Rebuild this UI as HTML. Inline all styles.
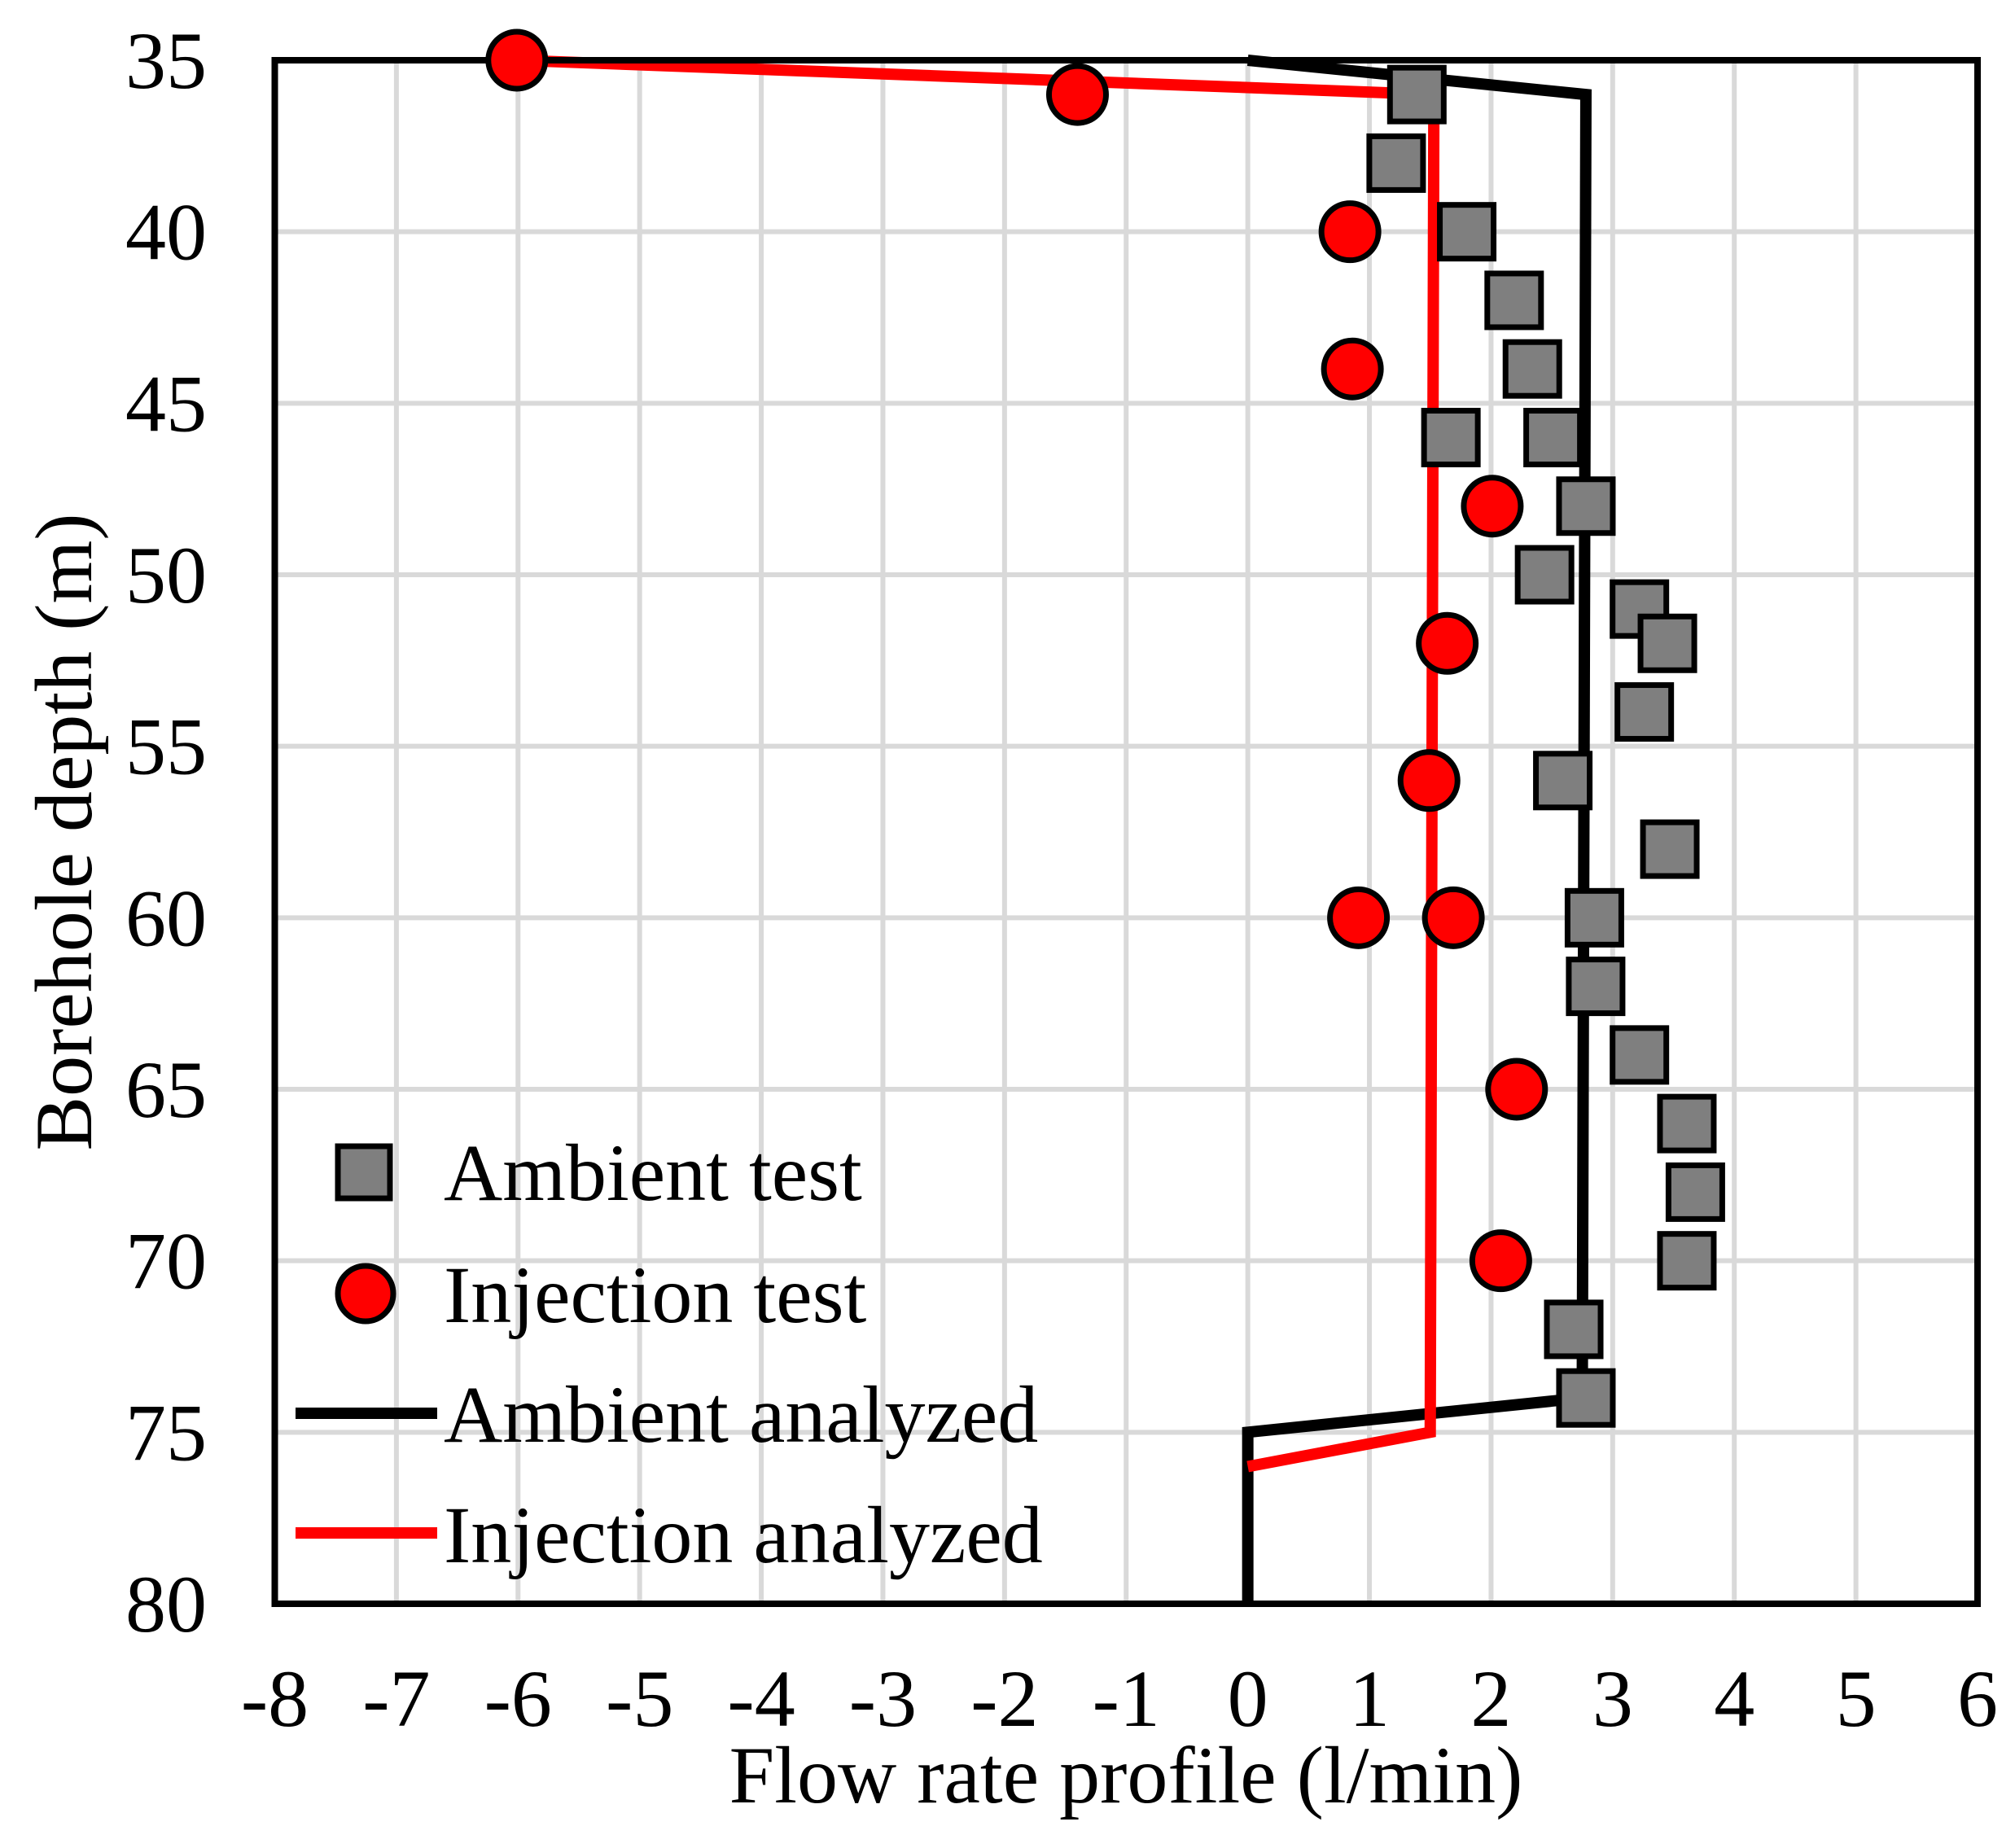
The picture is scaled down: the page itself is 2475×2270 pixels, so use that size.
<!DOCTYPE html>
<html><head><meta charset="utf-8"><style>
html,body{margin:0;padding:0;background:#fff;}
svg{display:block;font-family:"Liberation Serif",serif;}
</style></head><body>
<svg id="chart" width="2475" height="2270" viewBox="0 0 2475 2270" xmlns="http://www.w3.org/2000/svg">
<rect width="2475" height="2270" fill="#fff"/>
<g id="grid"></g>
<g id="series"></g>
<rect x="337.5" y="74" width="2091.5" height="1896" fill="none" stroke="#000" stroke-width="8"/>
<g id="markers"></g>
<g id="ticks" font-size="100"></g>
<text x="1383" y="2214" font-size="100" text-anchor="middle">Flow rate profile (l/min)</text>
<text transform="translate(112,1022) rotate(-90)" font-size="100" text-anchor="middle">Borehole depth (m)</text>
<g font-size="100">
<rect x="415" y="1408" width="64" height="64" fill="#7f7f7f" stroke="#000" stroke-width="7"/>
<text x="545" y="1474">Ambient test</text>
<circle cx="449" cy="1589" r="34" fill="#ff0000" stroke="#000" stroke-width="7"/>
<text x="545" y="1624">Injection test</text>
<line x1="363" y1="1736" x2="537" y2="1736" stroke="#000" stroke-width="14"/>
<text x="545" y="1771">Ambient analyzed</text>
<line x1="363" y1="1883" x2="537" y2="1883" stroke="#ff0000" stroke-width="14"/>
<text x="545" y="1919">Injection analyzed</text>
</g>
</svg>
<script>
const xTicks=[-8,-7,-6,-5,-4,-3,-2,-1,0,1,2,3,4,5,6];
const yTicks=[35,40,45,50,55,60,65,70,75,80];
const ambientX=[1.39,1.22,1.80,2.19,2.34,1.67,2.51,2.78,2.44,3.22,3.45,3.26,2.59,3.47,2.85,2.86,3.22,3.61,3.68,3.61,2.68,2.78];
const ambientY=[36,38,40,42,44,46,46,48,50,51,52,54,56,58,60,62,64,66,68,70,72,74];
const injX=[-6.01,-1.40,0.84,0.86,2.01,1.64,1.49,0.91,1.69,2.21,2.08];
const injY=[35,36,40,44,48,52,56,60,60,65,70];
const ambLineX=[0,2.78,2.75,0,0];
const ambLineY=[35,36,74,75,80];
const injLineX=[-6.01,1.53,1.50,0];
const injLineY=[35,36,75,76];
const L=337.5,R=2429,T=74,B=1970;
const sx=v=>L+(v+8)/14*(R-L);
const sy=v=>T+(v-35)/45*(B-T);
const NS='http://www.w3.org/2000/svg';
function mk(tag,parent,attrs){const e=document.createElementNS(NS,tag);for(const k in attrs)e.setAttribute(k,attrs[k]);parent.appendChild(e);return e;}
const grid=document.getElementById('grid'),ticks=document.getElementById('ticks');
xTicks.forEach(t=>{
 const g=mk('line',grid,{x1:sx(t),x2:sx(t),y1:T,y2:B,stroke:'#d9d9d9','stroke-width':6});
 
 
 const tx=mk('text',ticks,{x:sx(t),y:2120,'text-anchor':'middle'});tx.textContent=t;
 
 
});
yTicks.forEach(t=>{
 const g=mk('line',grid,{x1:L,x2:R,y1:sy(t),y2:sy(t),stroke:'#d9d9d9','stroke-width':6});
 
 
 const tx=mk('text',ticks,{x:254,y:sy(t)+34,'text-anchor':'end'});tx.textContent=t;
 
 
});
const series=document.getElementById('series');
const p1=mk('polyline',series,{points:ambLineX.map((x,i)=>sx(x)+','+sy(ambLineY[i])).join(' '),fill:'none',stroke:'#000','stroke-width':14,'stroke-linejoin':'miter'});


const p2=mk('polyline',series,{points:injLineX.map((x,i)=>sx(x)+','+sy(injLineY[i])).join(' '),fill:'none',stroke:'#ff0000','stroke-width':14,'stroke-linejoin':'miter'});


const mg=document.getElementById('markers');
ambientX.forEach((x,i)=>{
 const r=mk('rect',mg,{x:sx(x)-33,y:sy(ambientY[i])-33,width:66,height:66,fill:'#7f7f7f',stroke:'#000','stroke-width':7});
 
 
});
injX.forEach((x,i)=>{
 const c=mk('circle',mg,{cx:sx(x),cy:sy(injY[i]),r:35,fill:'#ff0000',stroke:'#000','stroke-width':7});
 
 
});
</script>
</body></html>
